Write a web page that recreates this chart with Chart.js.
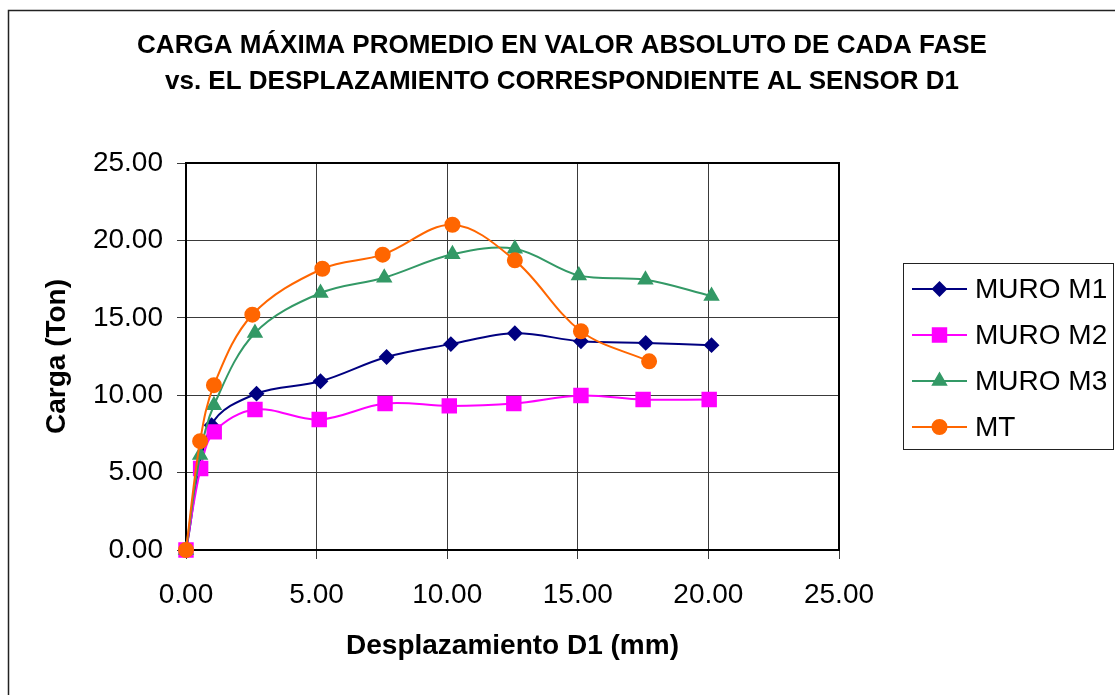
<!DOCTYPE html>
<html>
<head>
<meta charset="utf-8">
<script src="https://cdn.jsdelivr.net/npm/chart.js@4.4.1/dist/chart.umd.min.js"></script>
<style>
  body { margin: 0; background: #fff; }
  canvas { display: block; }
</style>
</head>
<body>
<canvas id="grafico" width="1115" height="695"></canvas>
<script>
// desplazamiento D1 (mm) y carga (Ton) por muro
const desp_m1 = [0, 0.98, 2.70, 5.15, 7.68, 10.14, 12.59, 15.12, 17.60, 20.12];
const carga_m1 = [0, 8.06, 10.10, 10.90, 12.47, 13.30, 14.00, 13.48, 13.38, 13.23];

const desp_m2 = [0, 0.56, 1.08, 2.64, 5.10, 7.62, 10.08, 12.55, 15.12, 17.50, 20.03];
const carga_m2 = [0, 5.27, 7.63, 9.08, 8.43, 9.46, 9.31, 9.46, 9.98, 9.72, 9.72];

const desp_m3 = [0, 0.54, 1.07, 2.64, 5.15, 7.59, 10.20, 12.59, 15.04, 17.59, 20.12];
const carga_m3 = [0, 6.13, 9.35, 14.02, 16.60, 17.59, 19.10, 19.46, 17.74, 17.46, 16.41];

const desp_mt = [0, 0.54, 1.07, 2.54, 5.22, 7.53, 10.20, 12.59, 15.12, 17.73];
const carga_mt = [0, 7.03, 10.65, 15.20, 18.17, 19.08, 21.01, 18.71, 14.13, 12.19];

const series = ["MURO M1", "MURO M2", "MURO M3", "MT"];
const ticksEje = [0, 5, 10, 15, 20, 25];
const titulo = [
    "CARGA MÁXIMA PROMEDIO EN VALOR ABSOLUTO DE CADA FASE",
    "vs. EL DESPLAZAMIENTO CORRESPONDIENTE AL SENSOR D1",
];

const fuente = '"Liberation Sans", Arial, sans-serif';

function puntos(xs, ys) {
    return xs.map((x, i) => ({ x: x, y: ys[i] }));
}

function serie(label, data, color, estilo, radio, orden) {
    return {
        label: label,
        data: data,
        borderColor: color,
        backgroundColor: color,
        pointBackgroundColor: color,
        pointBorderColor: color,
        pointStyle: estilo,
        pointRadius: radio,
        pointHoverRadius: radio,
        borderWidth: 2,
        tension: 0.35,
        clip: false,
        order: orden,
    };
}

// marco exterior, fondo, titulo y borde del area de trazado
const marco = {
    id: "marco",
    beforeDraw(chart) {
        const ctx = chart.ctx;
        ctx.save();
        ctx.fillStyle = "#fff";
        ctx.fillRect(0, 0, chart.width, chart.height);
        ctx.strokeStyle = "#222";
        ctx.lineWidth = 1.5;
        ctx.beginPath();
        ctx.moveTo(8.5, chart.height);
        ctx.lineTo(8.5, 10.5);
        ctx.lineTo(chart.width, 10.5);
        ctx.stroke();

        ctx.fillStyle = "#000";
        ctx.font = "bold 26px " + fuente;
        ctx.textAlign = "center";
        ctx.textBaseline = "alphabetic";
        ctx.fillText(titulo[0], 562, 53);
        ctx.fillText(titulo[1], 562, 89);
        ctx.restore();
    },
    beforeDatasetsDraw(chart) {
        const a = chart.chartArea;
        const ctx = chart.ctx;
        ctx.save();
        ctx.strokeStyle = "#000";
        ctx.lineWidth = 2;
        ctx.strokeRect(a.left, a.top, a.right - a.left, a.bottom - a.top);
        ctx.restore();
    }
};

// leyenda en recuadro a la derecha
const leyenda = {
    id: "leyenda",
    afterDraw(chart) {
        const ctx = chart.ctx;
        ctx.save();
        ctx.strokeStyle = "#222";
        ctx.lineWidth = 1;
        ctx.strokeRect(903.5, 263.5, 210, 186);
        chart.data.datasets.forEach((ds, i) => {
            const y = 289 + i * 46;
            ctx.strokeStyle = ds.borderColor;
            ctx.lineWidth = 2;
            ctx.beginPath();
            ctx.moveTo(912, y);
            ctx.lineTo(967, y);
            ctx.stroke();
            ctx.fillStyle = ds.pointBackgroundColor;
            Chart.helpers.drawPoint(ctx, {
                pointStyle: ds.pointStyle,
                radius: ds.pointRadius,
                borderWidth: 1,
                rotation: 0
            }, 939.5, y);
            ctx.fillStyle = "#000";
            ctx.font = "28px " + fuente;
            ctx.textAlign = "left";
            ctx.textBaseline = "middle";
            ctx.fillText(ds.label, 975, y + 1);
        });
        ctx.restore();
    }
};

const ctx = document.getElementById("grafico").getContext("2d");
const grafico = new Chart(ctx, {
    type: "line",
    data: {
        datasets: [
            serie(series[0], puntos(desp_m1, carga_m1), "#000080", "rectRot", 6.5, 3),
            serie(series[1], puntos(desp_m2, carga_m2), "#FF00FF", "rect", 9.5, 2),
            serie(series[2], puntos(desp_m3, carga_m3), "#339966", "triangle", 7.5, 1),
            serie(series[3], puntos(desp_mt, carga_mt), "#FF6600", "circle", 7, 0),
        ],
    },
    options: {
        responsive: false,
        animation: false,
        layout: {
            padding: { left: 8, right: 276, top: 163, bottom: 0 },
        },
        plugins: {
            legend: { display: false },
            tooltip: { enabled: false },
        },
        scales: {
            x: {
                type: "linear",
                min: ticksEje[0],
                max: ticksEje[ticksEje.length - 1],
                afterFit: (scale) => { scale.height = 145; },
                afterBuildTicks: (scale) => { scale.ticks = ticksEje.map(v => ({ value: v })); },
                ticks: {
                    color: "#000",
                    padding: 19,
                    maxRotation: 0,
                    font: { family: fuente, size: 28 },
                    callback: (v) => Number(v).toFixed(2),
                },
                grid: { color: "#3a3a3a", lineWidth: 1, tickLength: 9 },
                border: { color: "#000", width: 2 },
                title: {
                    display: true,
                    text: "Desplazamiento D1 (mm)",
                    color: "#000",
                    font: { family: fuente, size: 28, weight: "bold" },
                    padding: { top: 0, bottom: 32 },
                },
            },
            y: {
                min: ticksEje[0],
                max: ticksEje[ticksEje.length - 1],
                afterFit: (scale) => { scale.width = 178; },
                afterBuildTicks: (scale) => { scale.ticks = ticksEje.map(v => ({ value: v })); },
                ticks: {
                    color: "#000",
                    padding: 14,
                    font: { family: fuente, size: 28 },
                    callback: (v) => Number(v).toFixed(2),
                },
                grid: { color: "#3a3a3a", lineWidth: 1, tickLength: 9 },
                border: { color: "#000", width: 2 },
                title: {
                    display: true,
                    text: "Carga (Ton)",
                    color: "#000",
                    font: { family: fuente, size: 28, weight: "bold" },
                    padding: { top: 32, bottom: 0 },
                },
            },
        },
    },
    plugins: [marco, leyenda],
});
</script>
</body>
</html>
